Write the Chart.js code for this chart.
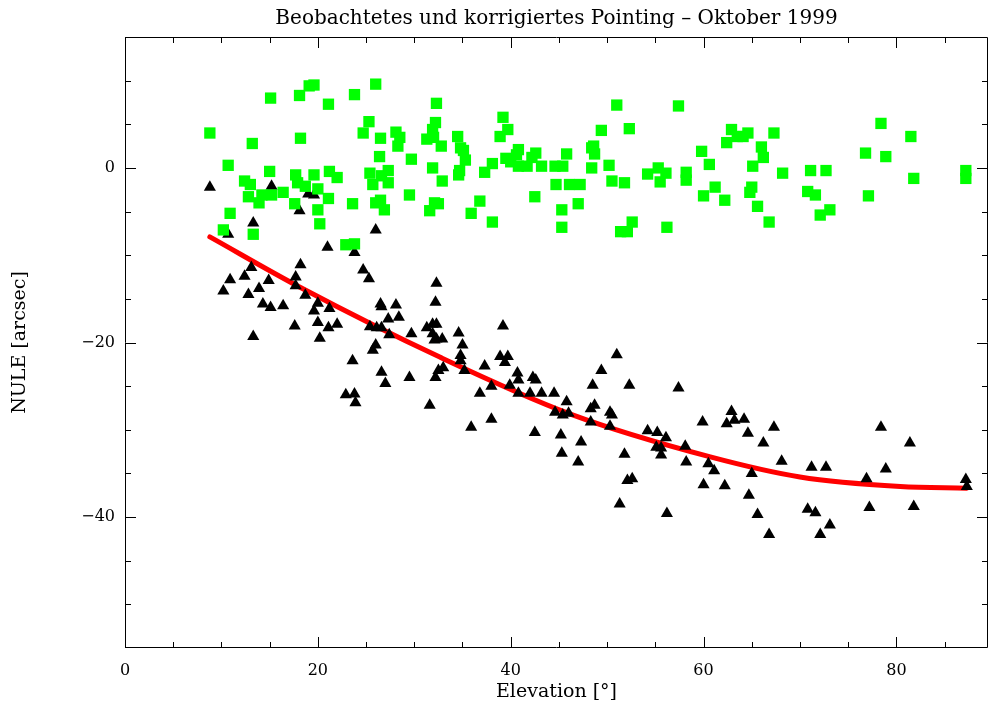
<!DOCTYPE html>
<html lang="de">
<head>
<meta charset="UTF-8">
<title>Beobachtetes und korrigiertes Pointing</title>
<script src="https://cdn.jsdelivr.net/npm/chart.js"></script>
<style>
    html, body { margin: 0; padding: 0; background: #fff; }
    #wrap { width: 988px; height: 708px; }
</style>
</head>
<body>
<div id="wrap"><canvas id="grafik" width="988" height="708"></canvas></div>
<script>
// korrigiertes Pointing (gruene Quadrate): Elevation [deg], NULE [arcsec]
var korrElev = [8.8, 15.1, 18.1, 19.1, 19.6, 21.1, 23.8, 26.0,
    13.2, 18.2, 25.3, 24.7, 26.5, 28.1, 28.5, 28.3, 26.4, 29.7, 32.3, 32.2, 31.9, 31.3, 32.0, 31.9,
    10.7, 15.0, 12.4, 13.0, 17.7, 17.9, 18.7, 19.6, 21.2, 22.0, 25.4, 25.7, 26.6, 27.3, 27.3,
    12.8, 13.9, 14.2, 15.2, 16.4, 17.6, 20.0, 21.1, 20.0, 20.2, 23.6, 26.0, 26.5, 26.9, 29.5, 32.1, 31.6,
    10.9, 10.2, 13.3, 22.9, 23.8,
    34.5, 32.8, 34.8, 35.1, 35.3, 34.7, 34.6, 32.9, 32.5,
    39.2, 39.7, 38.9, 38.1, 37.3, 36.8, 35.9, 38.1,
    39.5, 40.0, 40.6, 40.8, 40.8, 41.7, 42.6, 42.2, 43.2, 42.5,
    44.6, 45.4, 45.8, 44.7, 46.1, 47.2, 45.3, 45.3, 47.0,
    48.4, 48.6, 48.7, 48.4, 49.4, 51.0, 50.2, 50.5, 51.8, 52.3, 51.4, 52.1, 52.6,
    54.2, 55.3, 55.5, 56.1, 57.4, 56.2, 58.2, 58.2, 59.8, 60.6, 60.0,
    61.2, 62.2, 62.9, 62.4, 63.5, 64.1, 64.6, 67.3, 66.0, 66.2, 65.1, 68.2, 65.0, 64.8, 65.6, 66.8,
    71.1, 72.7, 70.8, 71.6, 72.1, 73.1,
    78.4, 81.5, 76.8, 78.9, 81.8, 77.1, 87.2, 87.2];
var korrNule = [4.0, 8.0, 8.3, 9.4, 9.5, 7.3, 8.4, 9.6,
    2.8, 3.4, 5.3, 4.0, 3.4, 4.1, 3.5, 2.5, 1.3, 1.0, 7.4, 5.2, 4.4, 3.3, 3.5, 0.0,
    0.3, -0.4, -1.5, -1.9, -0.8, -1.7, -2.1, -0.8, -0.4, -1.1, -0.6, -1.9, -0.9, -0.3, -1.7,
    -3.3, -4.0, -3.1, -3.1, -2.8, -4.1, -2.4, -3.5, -4.8, -6.4, -4.1, -4.0, -3.7, -4.8, -3.1, -4.0, -4.9,
    -5.2, -7.1, -7.6, -8.8, -8.7,
    3.6, 2.5, 2.3, 2.0, 0.9, -0.3, -0.8, -1.5, -4.1,
    5.8, 4.4, 3.6, 0.5, -0.5, -3.8, -5.2, -6.2,
    1.1, 0.7, 1.5, 2.1, 0.2, 0.2, 1.7, 1.2, 0.2, -3.3,
    0.2, 0.2, 1.6, -1.9, -1.9, -1.9, -4.8, -6.8, -4.1,
    2.3, 2.5, 1.6, 0.0, 4.3, 7.2, 0.3, -1.5, -1.7, 4.5, -7.3, -7.3, -6.2,
    -0.7, 0.0, -1.6, -0.6, 7.1, -6.8, -0.5, -1.4, 1.9, 0.4, -3.2,
    -2.2, -3.7, 4.4, 2.9, 3.6, 3.6, 4.0, 4.0, 2.4, 1.2, 0.2, -0.6, -2.2, -2.8, -4.4, -6.2,
    -0.3, -0.3, -2.7, -3.1, -5.4, -4.8,
    5.1, 3.6, 1.7, 1.3, -1.2, -3.2, -0.3, -1.2];

// beobachtetes Pointing (schwarze Dreiecke)
var beobElev = [8.8, 15.2, 19.0, 19.6, 18.1, 13.3, 10.7, 26.0, 21.0, 23.8,
    18.2, 13.1, 12.4, 10.9, 10.2, 14.9, 13.9, 12.8, 17.7, 17.7,
    18.7, 14.3, 15.1, 16.4, 20.0, 19.6, 21.2, 17.6, 20.0, 21.1,
    22.0, 20.2, 13.3, 24.7, 25.3, 26.5, 26.6, 28.1, 27.3, 28.4,
    25.4, 26.1, 26.6, 27.4, 29.7, 26.0, 25.7, 23.6, 26.6, 27.0,
    29.5, 22.9, 23.8, 23.9, 31.6, 32.3, 32.2, 31.3, 31.9, 32.3,
    31.9, 32.1, 32.3, 32.9, 32.2, 32.5, 34.6, 35.0, 34.8, 34.8,
    35.2, 33.0, 39.2, 37.3, 38.0, 36.8, 38.9, 39.7, 39.4, 40.7,
    40.8, 42.3, 42.6, 39.9, 40.8, 42.0, 43.2, 44.5, 45.8, 44.6,
    45.4, 46.0, 35.9, 38.0, 42.5, 45.2, 47.3, 45.3, 47.0, 48.3,
    48.7, 48.3, 50.3, 50.5, 50.3, 48.5, 49.4, 51.0, 52.3, 51.8,
    52.1, 52.6, 51.3, 54.2, 55.2, 56.1, 55.1, 55.6, 55.6, 56.2,
    57.4, 58.1, 58.2, 59.9, 60.5, 60.0, 62.9, 62.4, 63.2, 64.2,
    64.6, 67.3, 66.2, 61.1, 62.2, 68.1, 65.0, 64.7, 65.6, 66.8,
    71.2, 72.7, 70.8, 71.6, 73.1, 72.1, 78.4, 81.4, 78.9, 76.9,
    77.2, 81.8, 87.2, 87.3];
var beobNule = [-2.2, -2.1, -3.0, -3.1, -4.9, -6.3, -7.6, -7.1, -9.1, -9.7,
    -11.1, -11.4, -12.4, -12.8, -14.1, -12.9, -13.8, -14.5, -12.5, -13.5,
    -14.6, -15.6, -16.0, -15.8, -15.5, -16.4, -16.1, -18.1, -17.7, -18.3,
    -17.9, -19.5, -19.3, -11.7, -12.7, -15.6, -15.9, -15.7, -17.3, -17.1,
    -18.2, -18.3, -18.3, -19.1, -19.0, -20.3, -20.9, -22.1, -23.4, -24.7,
    -24.0, -26.0, -25.9, -26.9, -27.2, -13.2, -15.4, -18.3, -17.9, -17.9,
    -19.0, -19.7, -19.6, -19.6, -24.0, -23.2, -18.9, -20.3, -21.5, -22.1,
    -23.2, -22.9, -18.1, -22.7, -25.0, -25.8, -21.6, -21.6, -22.3, -23.5,
    -24.3, -24.0, -24.3, -24.9, -25.8, -25.8, -25.8, -25.8, -26.8, -28.0,
    -28.3, -28.1, -29.7, -28.8, -30.3, -30.6, -31.4, -32.7, -33.7, -27.6,
    -27.2, -29.1, -28.0, -28.3, -29.6, -24.9, -23.2, -21.4, -24.9, -32.8,
    -35.8, -35.6, -38.5, -30.1, -30.3, -30.9, -32.0, -32.1, -32.9, -39.6,
    -25.2, -31.9, -33.7, -29.1, -33.9, -36.3, -27.9, -29.3, -28.9, -28.8,
    -30.4, -29.7, -31.5, -34.7, -36.4, -33.6, -35.0, -37.5, -39.7, -42.0,
    -34.3, -34.3, -39.1, -39.5, -40.9, -42.0, -29.7, -31.5, -34.5, -35.6,
    -38.9, -38.8, -35.7, -36.5];

// Fitkurve (rot)
var fitElev = [8.8, 18.2, 32.7, 46.2, 60.7, 70.0, 80.4, 87.3];
var fitNule = [-7.9, -13.7, -21.7, -28.2, -33.1, -35.4, -36.5, -36.7];

// Achsen
var xTicks = [0, 20, 40, 60, 80];
var xMinor = [5, 10, 15, 25, 30, 35, 45, 50, 55, 65, 70, 75, 85];
var yTicks = [-40, -20, 0];
var yMinor = [-50, -45, -35, -30, -25, -15, -10, -5, 5, 10];

var schrift = "'DejaVu Serif', 'Liberation Serif', serif";

function punkte(xs, ys) {
    return xs.map(function (x, i) { return { x: x, y: ys[i] }; });
}

// Rahmen mit Strichen nach innen, auf allen vier Seiten
var rahmen = {
    id: 'rahmen',
    afterDraw: function (chart) {
        var ctx = chart.ctx, a = chart.chartArea;
        var sx = chart.scales.x, sy = chart.scales.y;
        ctx.save();
        ctx.strokeStyle = '#000';
        ctx.lineWidth = 1;
        ctx.beginPath();
        ctx.rect(a.left + 0.5, a.top + 0.5, a.right - a.left - 1, a.bottom - a.top - 1);
        function xStrich(v, len) {
            var p = Math.round(sx.getPixelForValue(v)) + 0.5;
            ctx.moveTo(p, a.bottom); ctx.lineTo(p, a.bottom - len);
            ctx.moveTo(p, a.top); ctx.lineTo(p, a.top + len);
        }
        function yStrich(v, len) {
            var p = Math.round(sy.getPixelForValue(v)) + 0.5;
            ctx.moveTo(a.left, p); ctx.lineTo(a.left + len, p);
            ctx.moveTo(a.right, p); ctx.lineTo(a.right - len, p);
        }
        xTicks.forEach(function (v) { xStrich(v, 11); });
        xMinor.forEach(function (v) { xStrich(v, 6); });
        yTicks.forEach(function (v) { yStrich(v, 11); });
        yMinor.forEach(function (v) { yStrich(v, 6); });
        ctx.stroke();
        ctx.restore();
    }
};

var ctx = document.getElementById('grafik').getContext('2d');
var grafik = new Chart(ctx, {
    type: 'scatter',
    data: {
        datasets: [{
            label: 'korrigiert',
            data: punkte(korrElev, korrNule),
            pointStyle: 'rect',
            pointRadius: 8,
            backgroundColor: '#00ff00',
            borderWidth: 0,
            order: 0
        }, {
            label: 'beobachtet',
            data: punkte(beobElev, beobNule),
            pointStyle: 'triangle',
            pointRadius: 7,
            backgroundColor: '#000000',
            borderWidth: 0,
            order: 1
        }, {
            type: 'line',
            label: 'Fit',
            data: punkte(fitElev, fitNule),
            borderColor: '#ff0000',
            borderWidth: 5,
            borderCapStyle: 'round',
            pointRadius: 0,
            cubicInterpolationMode: 'monotone',
            fill: false,
            order: 2
        }]
    },
    options: {
        responsive: false,
        animation: false,
        devicePixelRatio: 1,
        events: [],
        layout: { autoPadding: false, padding: 0 },
        plugins: {
            legend: { display: false },
            tooltip: { enabled: false },
            title: {
                display: true,
                fullSize: false,
                text: 'Beobachtetes und korrigiertes Pointing \u2013 Oktober 1999',
                color: '#000',
                font: { family: schrift, size: 20, weight: 'normal' },
                padding: { top: 7, bottom: 6 }
            }
        },
        scales: {
            x: {
                type: 'linear',
                min: 0,
                max: 89.5,
                grid: { display: false, drawTicks: false },
                border: { display: false },
                afterBuildTicks: function (s) { s.ticks = xTicks.map(function (v) { return { value: v }; }); },
                afterFit: function (s) {
                    s.height = 60;
                    s.paddingLeft = 0;
                    s.paddingRight = 0;
                },
                ticks: {
                    color: '#000',
                    font: { family: schrift, size: 16 },
                    padding: 13,
                    maxRotation: 0,
                    autoSkip: false
                },
                title: {
                    display: true,
                    text: 'Elevation [\u00b0]',
                    color: '#000',
                    font: { family: schrift, size: 19 },
                    padding: { top: 0, bottom: 5 }
                }
            },
            y: {
                type: 'linear',
                min: -55,
                max: 15,
                grid: { display: false, drawTicks: false },
                border: { display: false },
                afterBuildTicks: function (s) { s.ticks = yTicks.map(function (v) { return { value: v }; }); },
                afterFit: function (s) {
                    s.width = 125;
                    s.paddingTop = 0;
                    s.paddingBottom = 0;
                },
                ticks: {
                    color: '#000',
                    font: { family: schrift, size: 16 },
                    padding: 10,
                    callback: function (v) { return v < 0 ? '\u2212' + Math.abs(v) : String(v); }
                },
                title: {
                    display: true,
                    text: 'NULE [arcsec]',
                    color: '#000',
                    font: { family: schrift, size: 19 },
                    padding: { top: 9, bottom: 0 }
                }
            }
        }
    },
    plugins: [rahmen]
});
</script>
</body>
</html>
